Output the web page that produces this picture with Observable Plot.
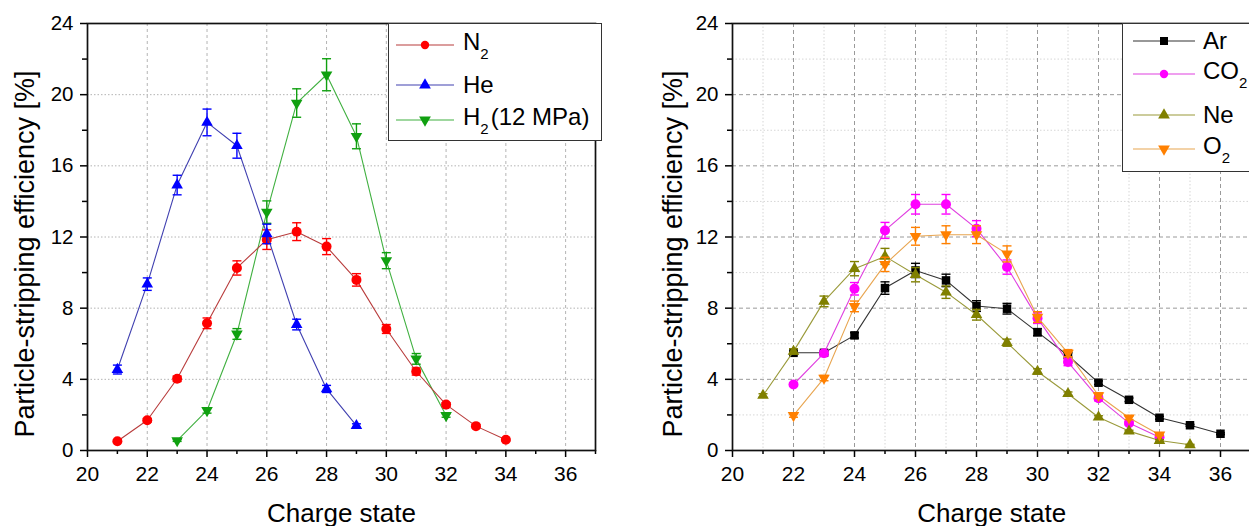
<!DOCTYPE html>
<html><head><meta charset="utf-8">
<script src="https://cdn.jsdelivr.net/npm/d3@7"></script>
<script src="https://cdn.jsdelivr.net/npm/@observablehq/plot@0.6"></script>
<style>
body{margin:0;width:1249px;height:526px;overflow:hidden;background:#fff;font-family:"Liberation Sans",Arial,sans-serif;position:relative}
.panel{position:absolute;top:0;height:526px}
.legend{position:absolute;border:1.5px solid #333;background:#fff;box-sizing:border-box;overflow:hidden}
.row{position:absolute;left:0;display:flex;align-items:center;height:30px;margin-top:-15px;font-size:24px;white-space:nowrap;color:#000}
.row sub{font-size:15px;vertical-align:-9px;margin-right:2px}
.row svg{display:block}
</style></head><body>
<div id="left" class="panel" style="left:0;width:620px"></div>
<div id="right" class="panel" style="left:620px;width:640px"></div>
<script>
// ---------- data ----------
const yLabel = "Particle-stripping efficiency [%]";
const xLabel = "Charge state";
const xMajorTicks = [20, 22, 24, 26, 28, 30, 32, 34, 36];
const xMinorTicks = [21, 23, 25, 27, 29, 31, 33, 35, 37];
const yMajorTicks = [0, 4, 8, 12, 16, 20, 24];
const yMinorTicks = [2, 6, 10, 14, 18, 22];

// Left panel
const n2Charge = [21, 22, 23, 24, 25, 26, 27, 28, 29, 30, 31, 32, 33, 34];
const n2Eff    = [0.52, 1.70, 4.03, 7.15, 10.26, 11.85, 12.30, 11.46, 9.59, 6.83, 4.44, 2.58, 1.37, 0.60];
const n2Err    = [0.05, 0.10, 0.15, 0.30, 0.40, 0.55, 0.50, 0.45, 0.35, 0.25, 0.20, 0.10, 0.08, 0.05];

const heCharge = [21, 22, 23, 24, 25, 26, 27, 28, 29];
const heEff    = [4.55, 9.35, 14.92, 18.44, 17.13, 12.17, 7.08, 3.46, 1.40];
const heErr    = [0.25, 0.35, 0.55, 0.75, 0.70, 0.55, 0.30, 0.20, 0.10];

const h2Charge = [23, 24, 25, 26, 27, 28, 29, 30, 31, 32];
const h2Eff    = [0.56, 2.25, 6.55, 13.40, 19.53, 21.12, 17.66, 10.67, 5.15, 1.97];
const h2Err    = [0.05, 0.15, 0.30, 0.63, 0.80, 0.90, 0.70, 0.45, 0.30, 0.10];

// Right panel
const arCharge = [22, 23, 24, 25, 26, 27, 28, 29, 30, 31, 32, 33, 34, 35, 36];
const arEff    = [5.49, 5.49, 6.47, 9.13, 10.12, 9.56, 8.12, 7.97, 6.65, 5.34, 3.81, 2.85, 1.84, 1.42, 0.94];
const arErr    = [0.10, 0.10, 0.15, 0.35, 0.40, 0.35, 0.30, 0.30, 0.20, 0.15, 0.10, 0.10, 0.08, 0.05, 0.05];

const co2Charge = [22, 23, 24, 25, 26, 27, 28, 29, 30, 31, 32, 33, 34];
const co2Eff    = [3.71, 5.47, 9.09, 12.37, 13.84, 13.84, 12.47, 10.31, 7.44, 4.97, 2.94, 1.54, 0.75];
const co2Err    = [0.10, 0.15, 0.35, 0.45, 0.55, 0.55, 0.45, 0.40, 0.30, 0.20, 0.15, 0.10, 0.05];

const neCharge = [21, 22, 23, 24, 25, 26, 27, 28, 29, 30, 31, 32, 33, 34, 35];
const neEff    = [3.09, 5.57, 8.38, 10.22, 10.91, 9.88, 8.90, 7.63, 6.06, 4.44, 3.19, 1.87, 1.09, 0.56, 0.32];
const neErr    = [0.10, 0.15, 0.30, 0.40, 0.45, 0.40, 0.35, 0.30, 0.20, 0.15, 0.10, 0.08, 0.05, 0.05, 0.03];

const o2Charge = [22, 23, 24, 25, 26, 27, 28, 29, 30, 31, 32, 33, 34];
const o2Eff    = [1.97, 4.07, 8.10, 10.46, 12.04, 12.13, 12.13, 11.05, 7.50, 5.47, 3.09, 1.84, 0.88];
const o2Err    = [0.10, 0.15, 0.30, 0.40, 0.50, 0.50, 0.50, 0.45, 0.30, 0.20, 0.15, 0.10, 0.05];

// ---------- series definitions ----------
const leftSeries = [
  {name: "H", sub: "2", after: "(12 MPa)", charge: h2Charge, eff: h2Eff, err: h2Err, color: "#10a010", line: "#40b040", symbol: "triangle", r: 4.3, rotate: 180},
  {name: "N", sub: "2", after: "", charge: n2Charge, eff: n2Eff, err: n2Err, color: "#ff0000", line: "#b83c3c", symbol: "circle", r: 5, rotate: 0},
  {name: "He", sub: "", after: "", charge: heCharge, eff: heEff, err: heErr, color: "#0000ff", line: "#4040b0", symbol: "triangle", r: 4.3, rotate: 0}
];
const leftLegendOrder = [1, 2, 0];

const rightSeries = [
  {name: "Ar", sub: "", after: "", charge: arCharge, eff: arEff, err: arErr, color: "#000000", line: "#333333", symbol: "square", r: 4.8, rotate: 0},
  {name: "CO", sub: "2", after: "", charge: co2Charge, eff: co2Eff, err: co2Err, color: "#ff00ff", line: "#e040e0", symbol: "circle", r: 5, rotate: 0},
  {name: "Ne", sub: "", after: "", charge: neCharge, eff: neEff, err: neErr, color: "#808000", line: "#9a9a3a", symbol: "triangle", r: 4.3, rotate: 0},
  {name: "O", sub: "2", after: "", charge: o2Charge, eff: o2Eff, err: o2Err, color: "#ff8000", line: "#e8a550", symbol: "triangle", r: 4.3, rotate: 180}
];
const rightLegendOrder = [0, 1, 2, 3];

// ---------- helpers ----------
const capSymbol = {draw(ctx) { ctx.moveTo(-4.5, 0); ctx.lineTo(4.5, 0); }};
const FONT = "'Liberation Sans', Arial, sans-serif";

function seriesMarks(s) {
  const rows = s.charge.map((c, i) => ({x: c, y: s.eff[i], e: s.err[i]}));
  return [
    Plot.line(rows, {x: "x", y: "y", stroke: s.line, strokeWidth: 1.1}),
    Plot.ruleX(rows, {x: "x", y1: d => d.y - d.e, y2: d => d.y + d.e, stroke: s.color, strokeWidth: 1.4}),
    Plot.dot(rows, {x: "x", y: d => d.y + d.e, symbol: capSymbol, stroke: s.color, fill: "none", strokeWidth: 1.4}),
    Plot.dot(rows, {x: "x", y: d => d.y - d.e, symbol: capSymbol, stroke: s.color, fill: "none", strokeWidth: 1.4}),
    Plot.dot(rows, {x: "x", y: "y", symbol: s.symbol, r: s.r, fill: s.color, stroke: "none", rotate: s.rotate})
  ];
}

function makePanel(series, opts) {
  const grid = opts.minorGrid ? [
    Plot.gridX(xMinorTicks, {stroke: "#d6d6d6", strokeOpacity: 1, strokeDasharray: "1.5,2"}),
    Plot.gridY(yMinorTicks, {stroke: "#d6d6d6", strokeOpacity: 1, strokeDasharray: "1.5,2"}),
    Plot.gridX(xMajorTicks.slice(1), {stroke: "#9a9a9a", strokeOpacity: 1, strokeDasharray: "4,3"}),
    Plot.gridY(yMajorTicks.slice(1, -1), {stroke: "#9a9a9a", strokeOpacity: 1, strokeDasharray: "4,3"})
  ] : [
    Plot.gridX(xMajorTicks.slice(1), {stroke: "#b4b4b4", strokeOpacity: 1, strokeDasharray: "3,3"}),
    Plot.gridY(yMajorTicks.slice(1, -1), {stroke: "#b4b4b4", strokeOpacity: 1, strokeDasharray: "1.5,2"})
  ];
  return Plot.plot({
    width: opts.width,
    height: 526,
    marginLeft: opts.marginLeft,
    marginRight: opts.marginRight,
    marginTop: 23,
    marginBottom: 76,
    style: {fontFamily: FONT, maxWidth: "none", overflow: "visible", background: "transparent"},
    x: {domain: [20, 37]},
    y: {domain: [0, 24]},
    marks: [
      ...grid,
      ...series.flatMap(seriesMarks),
      Plot.axisY(yMajorTicks, {tickSize: 7, tickPadding: 7, fontSize: 20.5, label: null, stroke: "#000", strokeWidth: 1.5, fill: "#000"}),
      Plot.axisY(yMinorTicks, {tickSize: 5, tickFormat: () => "", label: null, stroke: "#000", strokeWidth: 1.5}),
      Plot.axisX(xMajorTicks, {tickSize: 7, tickPadding: 9, fontSize: 21, label: null, stroke: "#000", strokeWidth: 1.5, fill: "#000"}),
      Plot.axisX(xMinorTicks, {tickSize: 4, tickFormat: () => "", label: null, stroke: "#000", strokeWidth: 1.5}),
      Plot.frame({stroke: "#111", strokeWidth: 1.7}),
      Plot.text([yLabel], {text: d => d, frameAnchor: "left", dx: opts.ylabelDx, dy: 17, rotate: -90, textAnchor: "middle", lineAnchor: "middle", fontSize: 27, fill: "#000"}),
      Plot.text([xLabel], {text: d => d, frameAnchor: "bottom", dy: 63, textAnchor: "middle", lineAnchor: "middle", fontSize: 26, fill: "#000"})
    ]
  });
}

function symbolPath(s) {
  const typ = s.symbol === "circle" ? d3.symbolCircle : s.symbol === "square" ? d3.symbolSquare : d3.symbolTriangle;
  const size = s.symbol === "circle" ? Math.PI * 4.2 * 4.2 : s.symbol === "square" ? 64 : 60;
  return d3.symbol(typ, size)();
}

function makeLegend(container, series, order, box) {
  const lg = document.createElement("div");
  lg.className = "legend";
  Object.assign(lg.style, {left: box.left + "px", top: box.top + "px", width: box.width + "px", height: box.height + "px"});
  order.forEach((idx, k) => {
    const s = series[idx];
    const row = document.createElement("div");
    row.className = "row";
    row.style.top = box.rows[k] + "px";
    row.style.left = box.swatchLeft + "px";
    const w = box.swatchWidth;
    const svg = d3.create("svg").attr("width", w).attr("height", 20);
    svg.append("line").attr("x1", 0).attr("x2", w).attr("y1", 10).attr("y2", 10).attr("stroke", s.line).attr("stroke-width", 1.2);
    svg.append("path").attr("d", symbolPath(s)).attr("fill", s.color)
      .attr("transform", `translate(${w / 2},10) rotate(${s.rotate})`);
    row.appendChild(svg.node());
    const label = document.createElement("span");
    label.style.marginLeft = box.gap + "px";
    label.innerHTML = s.name + (s.sub ? `<sub>${s.sub}</sub>` : "") + s.after;
    row.appendChild(label);
    lg.appendChild(row);
  });
  container.appendChild(lg);
}

// ---------- render ----------
const leftDiv = document.getElementById("left");
leftDiv.appendChild(makePanel(leftSeries, {width: 620, marginLeft: 87, marginRight: 25, ylabelDx: -62, minorGrid: false}));
makeLegend(leftDiv, leftSeries, leftLegendOrder, {left: 388, top: 23, width: 214, height: 118, rows: [21, 61, 96], swatchLeft: 7, swatchWidth: 58, gap: 9});

const rightDiv = document.getElementById("right");
rightDiv.appendChild(makePanel(rightSeries, {width: 640, marginLeft: 112, marginRight: 9.5, ylabelDx: -59, minorGrid: true}));
makeLegend(rightDiv, rightSeries, rightLegendOrder, {left: 502, top: 23, width: 160, height: 149, rows: [17, 50, 91, 125], swatchLeft: 10, swatchWidth: 62, gap: 8});
</script></body></html>
